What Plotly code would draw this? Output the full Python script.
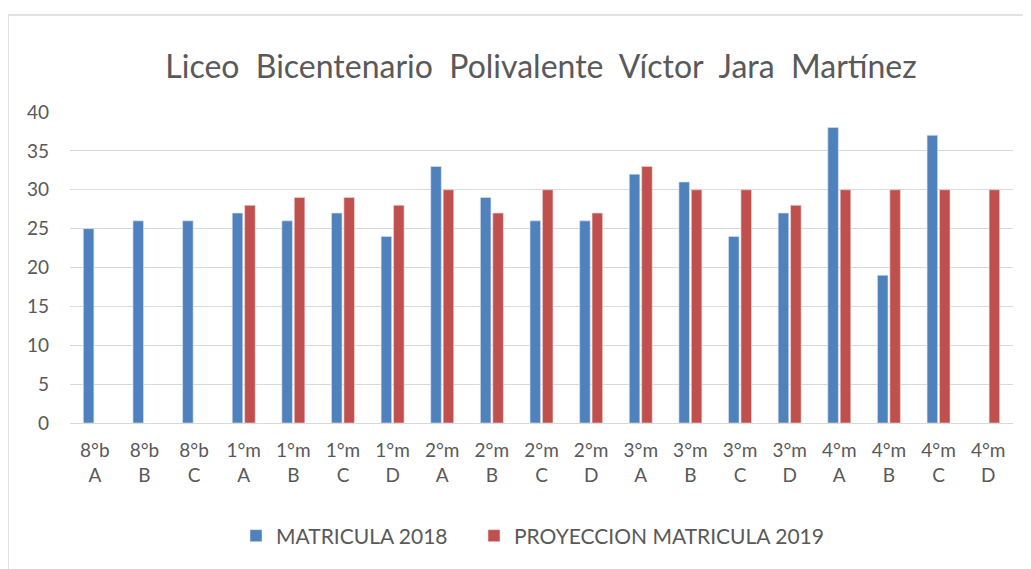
import plotly.graph_objects as go

categories = ["8°b<br>A", "8°b<br>B", "8°b<br>C", "1°m<br>A", "1°m<br>B", "1°m<br>C", "1°m<br>D",
              "2°m<br>A", "2°m<br>B", "2°m<br>C", "2°m<br>D", "3°m<br>A", "3°m<br>B", "3°m<br>C",
              "3°m<br>D", "4°m<br>A", "4°m<br>B", "4°m<br>C", "4°m<br>D"]
matricula_2018 = [25, 26, 26, 27, 26, 27, 24, 33, 29, 26, 26, 32, 31, 24, 27, 38, 19, 37, None]
proyeccion_2019 = [None, None, None, 28, 29, 29, 28, 30, 27, 30, 27, 33, 30, 30, 28, 30, 30, 30, 30]
y_ticks = [0, 5, 10, 15, 20, 25, 30, 35, 40]

FONT = "Lato"
GRAY = "#595959"
OFF = 8  # page body margin
W, H = 1031 - OFF, 569 - OFF
L, R, T, B = 70 - OFF, 1013 - OFF, 112 - OFF, 423 - OFF

def px_x(x):
    return (x - OFF - L) / (R - L)

def px_y(y):
    return (B - (y - OFF)) / (B - T)

title_text = "Liceo\u00a0 Bicentenario\u00a0 Polivalente\u00a0 Víctor\u00a0 Jara\u00a0 Martínez"

fig = go.Figure()
fig.add_trace(go.Bar(x=categories, y=matricula_2018, name="MATRICULA 2018", legend="legend",
                     marker=dict(color="#4F81BD", line=dict(color="#DCE6F2", width=0.6))))
fig.add_trace(go.Bar(x=categories, y=proyeccion_2019, name="PROYECCION MATRICULA 2019", legend="legend2",
                     marker=dict(color="#C0504D", line=dict(color="#F2DCDB", width=0.6))))

legend_common = dict(orientation="h", xanchor="left", xref="paper", yanchor="middle",
                     y=px_y(536), font=dict(size=21, color=GRAY), itemwidth=30,
                     bgcolor="rgba(0,0,0,0)")

fig.update_layout(
    width=W, height=H,
    margin=dict(l=L, r=W - R, t=T, b=H - B),
    paper_bgcolor="white", plot_bgcolor="white",
    barmode="group", bargap=0.50, bargroupgap=0.15,
    font=dict(family=FONT, color=GRAY, size=19),
    title=dict(text=title_text,
               font=dict(family=FONT, size=32, color=GRAY),
               x=(541 - OFF) / W, xanchor="center", y=1 - (67 - OFF) / H, yanchor="middle"),
    legend=dict(x=px_x(236), **legend_common),
    legend2=dict(x=px_x(474), **legend_common),
    showlegend=True,
)
fig.update_xaxes(tickmode="array", tickvals=categories, ticktext=categories,
                 showgrid=False, showline=True, linecolor="#D9D9D9", linewidth=1.3,
                 ticks="", tickfont=dict(size=19, color=GRAY), ticklabelstandoff=10)
fig.update_yaxes(range=[0, 40], tickvals=y_ticks, showgrid=True, gridcolor="#D9D9D9",
                 gridwidth=1.3, zeroline=False, showline=False, ticks="",
                 tickfont=dict(size=19, color=GRAY), ticklabelstandoff=20)

# outer chart-area frame (partially visible)
fig.add_shape(type="line", xref="paper", yref="paper", x0=px_x(8), x1=1.2,
              y0=px_y(15), y1=px_y(15), line=dict(color="#D9D9D9", width=1.5))
fig.add_shape(type="line", xref="paper", yref="paper", x0=px_x(8), x1=px_x(8),
              y0=px_y(15), y1=-1, line=dict(color="#D9D9D9", width=1.5))

fig.write_html("out.html")
